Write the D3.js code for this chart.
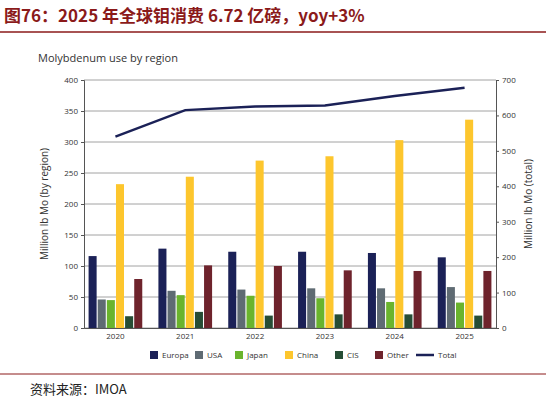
<!DOCTYPE html>
<html><head><meta charset="utf-8">
<script src="https://cdn.jsdelivr.net/npm/d3@7"></script>
<style>body{margin:0;background:#fff}text{font-family:"Open Sans","DejaVu Sans",sans-serif}</style>
</head><body><svg id="c" width="546" height="406"></svg>
<script>
const years = ['2020', '2021', '2022', '2023', '2024', '2025'];
const regions = ['Europa', 'USA', 'Japan', 'China', 'CIS', 'Other'];
const colors = ['#1b2157', '#5f6b73', '#6ab42d', '#fdc62d', '#264d35', '#6e232c'];
const europa = [116, 128, 123, 123, 121, 114];
const usa = [46, 60, 62, 64, 64, 66];
const japan = [45, 53, 52, 48, 42, 41];
const china = [232, 244, 270, 277, 303, 336];
const cis = [19, 26, 20, 22, 22, 20];
const other = [79, 101, 100, 93, 92, 92];
const total = [540, 615, 625, 628, 655, 678];
const leftTicks = [0, 50, 100, 150, 200, 250, 300, 350, 400];
const rightTicks = [0, 100, 200, 300, 400, 500, 600, 700];

const series = [europa, usa, japan, china, cis, other];
const svg = d3.select('#c');
const cjk = '"Noto Sans CJK SC", sans-serif';

svg.append('text').attr('x', 4).attr('y', 22).attr('fill', '#8b1a1a')
  .style('font-family', cjk).style('font-weight', 'bold').style('font-size', '17px')
  .text('图76：2025 年全球钼消费 6.72 亿磅，yoy+3%');
svg.append('line').attr('x1', 0).attr('x2', 546).attr('y1', 32).attr('y2', 32)
  .attr('stroke', '#8b1a1a').attr('stroke-width', 1.5);
svg.append('text').attr('x', 38).attr('y', 62).attr('fill', '#333').style('font-size', '11px')
  .text('Molybdenum use by region');

const m = { l: 84, r: 496, t: 80, b: 328 };
const x = d3.scaleBand().domain(years).range([m.l, m.r]).paddingInner(0.2).paddingOuter(0.05);
const xi = d3.scaleBand().domain(regions).range([0, x.bandwidth()]).padding(0.12);
const y = d3.scaleLinear().domain([0, 400]).range([m.b, m.t]);
const y2 = d3.scaleLinear().domain([0, 700]).range([m.b, m.t]);

svg.append('g').selectAll('line').data(leftTicks).join('line')
  .attr('x1', m.l).attr('x2', m.r).attr('y1', d => y(d)).attr('y2', d => y(d))
  .attr('stroke', '#8a8a8a').attr('stroke-width', 0.8);

const ax = svg.append('g').attr('transform', `translate(${m.l},0)`)
  .call(d3.axisLeft(y).tickValues(leftTicks).tickSize(3));
const ax2 = svg.append('g').attr('transform', `translate(${m.r},0)`)
  .call(d3.axisRight(y2).tickValues(rightTicks).tickSize(3));
const axb = svg.append('g').attr('transform', `translate(0,${m.b})`)
  .call(d3.axisBottom(x).tickSize(0).tickPadding(5));
[ax, ax2, axb].forEach(a => {
  a.selectAll('text').style('font-size', '8px').attr('fill', '#333');
  a.selectAll('path,line').attr('stroke', '#555');
});

years.forEach((yr, i) => {
  svg.append('g').selectAll('rect').data(regions).join('rect')
    .attr('x', r => x(yr) + xi(r)).attr('width', xi.bandwidth())
    .attr('y', (r, j) => y(series[j][i])).attr('height', (r, j) => m.b - y(series[j][i]))
    .attr('fill', (r, j) => colors[j]);
});

svg.append('path').datum(total)
  .attr('d', d3.line().x((d, i) => x(years[i]) + x.bandwidth() / 2).y(d => y2(d)))
  .attr('fill', 'none').attr('stroke', '#1b2157').attr('stroke-width', 2.5);

svg.append('text').attr('transform', `translate(48,${(m.t + m.b) / 2}) rotate(-90)`)
  .attr('text-anchor', 'middle').style('font-size', '10px').attr('fill', '#333')
  .text('Million lb Mo (by region)');
svg.append('text').attr('transform', `translate(532,${(m.t + m.b) / 2}) rotate(-90)`)
  .attr('text-anchor', 'middle').style('font-size', '10px').attr('fill', '#333')
  .text('Million lb Mo (total)');

const leg = svg.append('g').attr('transform', 'translate(150,355)');
const legItems = regions.concat(['Total']);
const legX = [0, 45, 85, 135, 185, 225, 270];
legItems.forEach((name, i) => {
  const g = leg.append('g').attr('transform', `translate(${legX[i]},0)`);
  if (name === 'Total') g.append('line').attr('x1', -4).attr('x2', 14).attr('y1', 0).attr('y2', 0)
    .attr('stroke', '#1b2157').attr('stroke-width', 2.5);
  else g.append('rect').attr('x', 0).attr('y', -4).attr('width', 8).attr('height', 8).attr('fill', colors[i]);
  g.append('text').attr('x', name === 'Total' ? 18 : 12).attr('y', 3).style('font-size', '8px')
    .attr('fill', '#333').text(name);
});

svg.append('line').attr('x1', 0).attr('x2', 546).attr('y1', 374).attr('y2', 374)
  .attr('stroke', '#8b1a1a').attr('stroke-width', 1);
svg.append('text').attr('x', 30).attr('y', 394).style('font-family', cjk)
  .style('font-size', '13px').attr('fill', '#222').text('资料来源：IMOA');
</script></body></html>
